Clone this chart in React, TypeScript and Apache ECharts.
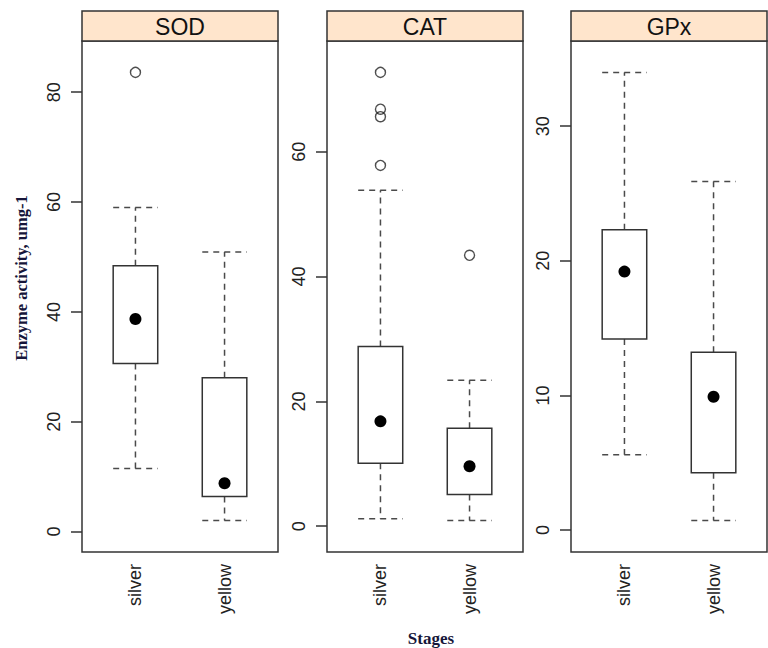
import React, { useEffect, useRef } from 'react';
import * as echarts from 'echarts';

// ---- data ----
const panelNames = ['SOD', 'CAT', 'GPx'];
const stages = ['silver', 'yellow'];
// per stage: [lower whisker, Q1, median, Q3, upper whisker]
const sodBox = [
  [11.5, 30.6, 38.7, 48.4, 59.0],
  [2.0, 6.4, 8.8, 28.0, 50.9],
];
const catBox = [
  [1.2, 10.1, 16.8, 28.8, 53.8],
  [0.9, 5.1, 9.6, 15.7, 23.4],
];
const gpxBox = [
  [5.6, 14.2, 19.2, 22.3, 34.0],
  [0.7, 4.25, 9.9, 13.2, 25.9],
];
// [stage index (1-based), value]
const sodOutliers = [[1, 83.6]];
const catOutliers = [[1, 72.7], [1, 66.8], [1, 65.6], [1, 57.8], [2, 43.4]];
const gpxOutliers: number[][] = [];
const sodTicks = [0, 20, 40, 60, 80];
const catTicks = [0, 20, 40, 60];
const gpxTicks = [0, 10, 20, 30];

const boxes = [sodBox, catBox, gpxBox];
const outliers = [sodOutliers, catOutliers, gpxOutliers];
const ticks = [sodTicks, catTicks, gpxTicks];

// ---- layout / style ----
const W = 768;
const H = 648;
const panelLefts = [82, 327, 571];
const panelWidth = 196;
const panelTop = 41;
const panelBottom = 552;
const stripTop = 11;
const stripHeight = 30;
const borderColor = '#333333';
const whiskerColor = '#4a4a4a';
const sans = '"Liberation Sans", Arial, Helvetica, sans-serif';
const serif = '"Liberation Serif", "Times New Roman", serif';

function range(i: number) {
  const vals: number[] = [];
  boxes[i].forEach((b) => vals.push(...b));
  outliers[i].forEach((o) => vals.push(o[1]));
  const lo = Math.min(...vals);
  const hi = Math.max(...vals);
  const pad = (hi - lo) * 0.07;
  return [lo - pad, hi + pad];
}

export default function App() {
  const ref = useRef<HTMLDivElement>(null);
  useEffect(() => {
    document.body.style.margin = '0';
    if (!ref.current) return;
    const chart = echarts.init(ref.current, undefined, { renderer: 'svg' });

    const grid = panelLefts.map((l) => ({
      left: l,
      top: panelTop,
      width: panelWidth,
      height: panelBottom - panelTop,
      show: true,
      borderColor,
      borderWidth: 1.5,
      backgroundColor: '#ffffff',
      containLabel: false,
    }));

    const xAxis = panelLefts.map((_, i) => ({
      type: 'value',
      gridIndex: i,
      min: 0.4,
      max: 2.6,
      axisLine: { show: false },
      axisTick: { show: false },
      splitLine: { show: false },
      axisLabel: {
        customValues: [1, 2],
        formatter: (v: number) => stages[Math.round(v) - 1] ?? '',
        rotate: 90,
        margin: 12,
        fontSize: 18,
        fontFamily: sans,
        color: '#222',
      },
    }));

    const yAxis = panelLefts.map((_, i) => {
      const [mn, mx] = range(i);
      return {
        type: 'value',
        gridIndex: i,
        min: mn,
        max: mx,
        axisLine: { show: false },
        splitLine: { show: false },
        axisTick: {
          show: true,
          inside: false,
          length: 11,
          customValues: ticks[i],
          lineStyle: { color: borderColor, width: 1.5 },
        },
        axisLabel: {
          customValues: ticks[i],
          rotate: 90,
          margin: 19,
          fontSize: 18,
          fontFamily: sans,
          color: '#222',
        },
      };
    });

    const series: any[] = [];
    boxes.forEach((bx, i) => {
      series.push({
        type: 'custom',
        xAxisIndex: i,
        yAxisIndex: i,
        encode: { x: 0, y: [1, 2, 3, 4, 5] },
        data: bx.map((b, k) => [k + 1, ...b]),
        renderItem: (params: any, api: any) => {
          const x = api.value(0);
          const lo = api.coord([x, api.value(1)]);
          const q1 = api.coord([x, api.value(2)]);
          const med = api.coord([x, api.value(3)]);
          const q3 = api.coord([x, api.value(4)]);
          const hi = api.coord([x, api.value(5)]);
          const left = api.coord([x - 0.25, api.value(3)])[0];
          const right = api.coord([x + 0.25, api.value(3)])[0];
          const dash = { stroke: whiskerColor, lineWidth: 1.5, lineDash: [6, 5] };
          return {
            type: 'group',
            children: [
              { type: 'line', shape: { x1: hi[0], y1: q3[1], x2: hi[0], y2: hi[1] }, style: dash },
              { type: 'line', shape: { x1: left, y1: hi[1], x2: right, y2: hi[1] }, style: dash },
              { type: 'line', shape: { x1: lo[0], y1: q1[1], x2: lo[0], y2: lo[1] }, style: dash },
              { type: 'line', shape: { x1: left, y1: lo[1], x2: right, y2: lo[1] }, style: dash },
              {
                type: 'rect',
                shape: { x: left, y: q3[1], width: right - left, height: q1[1] - q3[1] },
                style: { fill: '#ffffff', stroke: borderColor, lineWidth: 1.5 },
              },
              {
                type: 'circle',
                shape: { cx: med[0], cy: med[1], r: 6 },
                style: { fill: '#000000' },
              },
            ],
          };
        },
      });
      series.push({
        type: 'scatter',
        xAxisIndex: i,
        yAxisIndex: i,
        data: outliers[i],
        symbol: 'circle',
        symbolSize: 10,
        itemStyle: { color: 'rgba(0,0,0,0)', borderColor: '#222', borderWidth: 1.4 },
        silent: true,
      });
    });

    const graphic: any[] = [];
    panelLefts.forEach((l, i) => {
      graphic.push({
        type: 'rect',
        shape: { x: l, y: stripTop, width: panelWidth, height: stripHeight },
        style: { fill: '#FFE5CC', stroke: borderColor, lineWidth: 1.5 },
        z: 10,
      });
      graphic.push({
        type: 'text',
        x: l + panelWidth / 2,
        y: stripTop + stripHeight / 2 + 1,
        style: {
          text: panelNames[i],
          fontSize: 23,
          fontFamily: sans,
          fill: '#111',
          align: 'center',
          verticalAlign: 'middle',
        },
        z: 11,
      });
    });
    graphic.push({
      type: 'text',
      x: 21,
      y: 278,
      rotation: Math.PI / 2,
      style: {
        text: 'Enzyme activity, umg-1',
        fontSize: 16.5,
        fontWeight: 'bold',
        fontFamily: serif,
        fill: '#16163a',
        align: 'center',
        verticalAlign: 'middle',
      },
    });
    graphic.push({
      type: 'text',
      x: 431,
      y: 638,
      style: {
        text: 'Stages',
        fontSize: 17,
        fontWeight: 'bold',
        fontFamily: serif,
        fill: '#16163a',
        align: 'center',
        verticalAlign: 'middle',
      },
    });

    chart.setOption({
      animation: false,
      backgroundColor: '#ffffff',
      grid,
      xAxis,
      yAxis,
      series,
      graphic,
    });
    return () => chart.dispose();
  }, []);
  return <div ref={ref} style={{ width: W, height: H }} />;
}
